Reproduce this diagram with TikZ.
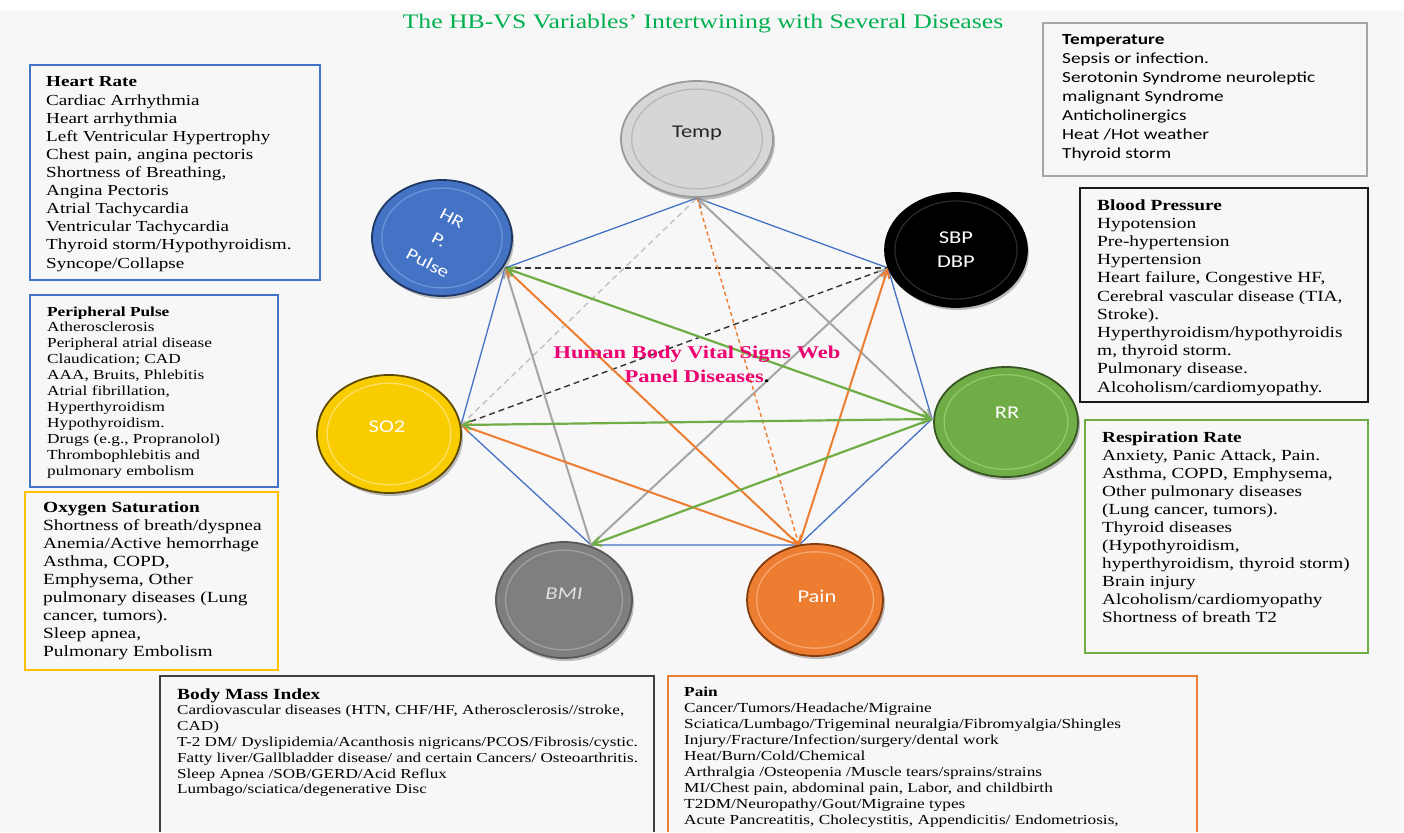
\documentclass[tikz,border=0pt]{standalone}
\usepackage{fontspec}
\setmainfont{Liberation Serif}[FakeStretch=1.25]
\newfontfamily\calib{Carlito}[FakeStretch=1.25]
\usetikzlibrary{shapes.geometric,arrows.meta}
\definecolor{bgc}{HTML}{F7F7F7}
\definecolor{bluec}{HTML}{4472C4}
\definecolor{greenc}{HTML}{70AD47}
\definecolor{orangec}{HTML}{ED7D31}
\definecolor{grayc}{HTML}{A5A5A5}
\definecolor{goldc}{HTML}{FFC000}
\definecolor{titlec}{HTML}{00B050}
\definecolor{pinkc}{HTML}{EE0070}
\definecolor{tempf}{HTML}{D6D6D6}
\definecolor{tempr}{HTML}{B8B8B8}
\definecolor{tempe}{HTML}{9A9A9A}
\definecolor{hrr}{HTML}{6A93DA}
\definecolor{hre}{HTML}{1F3864}
\definecolor{sbpr}{HTML}{2A2A2A}
\definecolor{rrr}{HTML}{8FCB66}
\definecolor{rre}{HTML}{375623}
\definecolor{so2f}{HTML}{F9CC00}
\definecolor{so2r}{HTML}{FFE066}
\definecolor{so2e}{HTML}{5E4A00}
\definecolor{bmif}{HTML}{7F7F7F}
\definecolor{bmir}{HTML}{A0A0A0}
\definecolor{bmie}{HTML}{595959}
\definecolor{painr}{HTML}{F7A670}
\definecolor{paine}{HTML}{843C0C}
\newcommand\tl[1]{\begin{tabular}[t]{@{}l@{}}#1\end{tabular}}
\newcommand\disk[8]{%
 \fill[black!50, opacity=0.5] (#2+2,#3+3) ellipse [x radius=#4pt, y radius=#5pt];
 \node[ellipse, draw=#8, line width=1.8pt, fill=#6, minimum width=2*#4pt, minimum height=2*#5pt, inner sep=0pt] (#1) at (#2,#3) {};
 \draw[draw=#7, line width=1.3pt] (#2,#3) ellipse [x radius=0.86*#4pt, y radius=0.86*#5pt];
}
\begin{document}
\begin{tikzpicture}[x=1pt,y=-1pt, >={Straight Barb[length=8pt,width=9pt]},
 txt/.style={anchor=base west, inner sep=0pt},
 poly/.style={draw=bluec, line width=1.3pt},
 gline/.style={draw=grayc, line width=2pt},
 oline/.style={draw=orangec, line width=2pt},
 grline/.style={draw=greenc, line width=2.2pt},
 bdash/.style={draw=black!80, line width=1.4pt, dash pattern=on 6pt off 4pt},
 ldash/.style={draw=black!25, line width=1.3pt, dash pattern=on 6pt off 4pt},
 odash/.style={draw=orangec, line width=1.4pt, dash pattern=on 4pt off 3pt},
 lbl/.style={font=\calib\fontsize{18}{24}\selectfont, inner sep=0pt, align=center},
 hrlbl/.style={font=\calib\fontsize{17}{20}\selectfont, inner sep=0pt, text=white, rotate=-28},
]
\useasboundingbox (0,0) rectangle (1404,832);
\fill[white] (0,0) rectangle (1404,832);
\fill[bgc] (0,10) rectangle (1404,832);

% title
\node[anchor=base, inner sep=0pt, text=titlec, font=\fontsize{20.6}{24}\selectfont] (title) at (703,29) {The HB-VS Variables' Intertwining with Several Diseases};

% boxes
\draw[draw=bluec, line width=1.5pt] (30,65) rectangle (320,280);
\draw[draw=bluec, line width=1.5pt] (30,295) rectangle (278,487);
\draw[draw=goldc, line width=1.8pt] (25,492) rectangle (278,670);
\draw[draw=black!35, line width=2pt] (1043,23) rectangle (1367,176);
\draw[draw=black!90, line width=1.8pt] (1080,188) rectangle (1368,402);
\draw[draw=greenc, line width=2pt] (1085,420) rectangle (1368,653);
\draw[draw=black!75, line width=1.5pt] (160,832) -- (160,676) -- (654,676) -- (654,832);
\draw[draw=orangec, line width=1.5pt] (668,832) -- (668,676) -- (1197,676) -- (1197,832);

\node[txt, font=\fontsize{15.3}{18.1}\selectfont] (hrtxt) at (46,87) {\tl{\textbf{Heart Rate}\\
Cardiac Arrhythmia\\
Heart arrhythmia\\
Left Ventricular Hypertrophy\\
Chest pain, angina pectoris\\
Shortness of Breathing,\\
Angina Pectoris\\
Atrial Tachycardia\\
Ventricular Tachycardia\\
Thyroid storm/Hypothyroidism.\\
Syncope/Collapse}};

\node[txt, font=\fontsize{13.8}{15.9}\selectfont] (pptxt) at (47,316) {\tl{\textbf{Peripheral Pulse}\\
Atherosclerosis\\
Peripheral atrial disease\\
Claudication; CAD\\
AAA, Bruits, Phlebitis\\
Atrial fibrillation,\\
Hyperthyroidism\\
Hypothyroidism.\\
Drugs (e.g., Propranolol)\\
Thrombophlebitis and\\
pulmonary embolism}};

\node[txt, font=\fontsize{15.5}{18.1}\selectfont] (o2txt) at (43,512) {\tl{\textbf{Oxygen Saturation}\\
Shortness of breath/dyspnea\\
Anemia/Active hemorrhage\\
Asthma, COPD,\\
Emphysema, Other\\
pulmonary diseases (Lung\\
cancer, tumors).\\
Sleep apnea,\\
Pulmonary Embolism}};

\node[txt, font=\calib\fontsize{15.4}{19}\selectfont] (temptxt) at (1062,45) {\tl{\textbf{Temperature}\\
Sepsis or infection.\\
Serotonin Syndrome neuroleptic\\
malignant Syndrome\\
Anticholinergics\\
Heat /Hot weather\\
Thyroid storm}};

\node[txt, font=\fontsize{15.5}{18.2}\selectfont] (bptxt) at (1097,210) {\tl{\textbf{Blood Pressure}\\
Hypotension\\
Pre-hypertension\\
Hypertension\\
Heart failure, Congestive HF,\\
Cerebral vascular disease (TIA,\\
Stroke).\\
Hyperthyroidism/hypothyroidis\\
m, thyroid storm.\\
Pulmonary disease.\\
Alcoholism/cardiomyopathy.}};

\node[txt, font=\fontsize{15.4}{18}\selectfont] (rrtxt) at (1102,442) {\tl{\textbf{Respiration Rate}\\
Anxiety, Panic Attack, Pain.\\
Asthma, COPD, Emphysema,\\
Other pulmonary diseases\\
(Lung cancer, tumors).\\
Thyroid diseases\\
(Hypothyroidism,\\
hyperthyroidism, thyroid storm)\\
Brain injury\\
Alcoholism/cardiomyopathy\\
Shortness of breath T2}};

\node[txt, font=\fontsize{13.7}{15.8}\selectfont] (bmitxt) at (177,699) {\tl{{\fontsize{15.5}{15.8}\selectfont\textbf{Body Mass Index}}\\
Cardiovascular diseases (HTN, CHF/HF, Atherosclerosis//stroke,\\
CAD)\\
T-2 DM/ Dyslipidemia/Acanthosis nigricans/PCOS/Fibrosis/cystic.\\
Fatty liver/Gallbladder disease/ and certain Cancers/ Osteoarthritis.\\
Sleep Apnea /SOB/GERD/Acid Reflux\\
Lumbago/sciatica/degenerative Disc}};

\node[txt, font=\fontsize{13.8}{16.1}\selectfont] (paintxt) at (684,696) {\tl{\textbf{Pain}\\
Cancer/Tumors/Headache/Migraine\\
Sciatica/Lumbago/Trigeminal neuralgia/Fibromyalgia/Shingles\\
Injury/Fracture/Infection/surgery/dental work\\
Heat/Burn/Cold/Chemical\\
Arthralgia /Osteopenia /Muscle tears/sprains/strains\\
MI/Chest pain, abdominal pain, Labor, and childbirth\\
T2DM/Neuropathy/Gout/Migraine types\\
Acute Pancreatitis, Cholecystitis, Appendicitis/ Endometriosis,}};

% vertices
\coordinate (vT) at (697,198);
\coordinate (vHR) at (505,268);
\coordinate (vSBP) at (888,268);
\coordinate (vRR) at (932,419);
\coordinate (vSO2) at (461,425);
\coordinate (vBMI) at (591,545);
\coordinate (vPain) at (799,545);

% connectors
\draw[poly] (vHR) -- (vT) -- (vSBP) -- (vRR) -- (vPain) -- (vBMI) -- (vSO2) -- cycle;
\draw[bdash] (vHR) -- (vSBP);
\draw[bdash] (vSO2) -- (vSBP);
\draw[ldash] (vSO2) -- (vT);
\draw[gline, ->] (vBMI) -- (vHR);
\draw[gline, ->] (vBMI) -- (vSBP);
\draw[gline, <->] (vT) -- (vRR);
\draw[oline, ->] (vPain) -- (vHR);
\draw[oline, ->] (vPain) -- (vSO2);
\draw[oline, ->] (vPain) -- (vSBP);
\draw[odash, ->] (vT) -- (vPain);
\draw[grline, <->] (vHR) -- (vRR);
\draw[grline, <->] (vSO2) -- (vRR);
\draw[grline, ->] (vRR) -- (vBMI);

% disks
\disk{temp}{697}{139}{76}{58}{tempf}{tempr}{tempe}
\disk{hr}{442}{238}{70}{58}{bluec}{hrr}{hre}
\disk{sbp}{956}{250}{71}{57}{black}{sbpr}{black}
\disk{rr}{1006}{422}{72}{55}{greenc}{rrr}{rre}
\disk{so2}{389}{434}{72}{59}{so2f}{so2r}{so2e}
\disk{bmi}{564}{600}{68}{58}{bmif}{bmir}{bmie}
\disk{pain}{815}{600}{68}{56}{orangec}{painr}{paine}

\node[lbl, text=black!85] (tempL) at (697,133) {Temp};
\node[lbl, text=white] (sbpL) at (956,250) {SBP\\DBP};
\node[lbl, text=white] (rrL) at (1007,413) {RR};
\node[lbl, text=white] (so2L) at (387,427) {SO2};
\node[lbl, text=black!12, font=\calib\itshape\fontsize{18}{24}\selectfont] (bmiL) at (564,594) {BMI};
\node[lbl, text=white] (painL) at (817,596) {Pain};
\node[hrlbl] (hrL1) at (452,218) {HR};
\node[hrlbl] (hrL2) at (439,240) {P.};
\node[hrlbl] (hrL3) at (428,263) {Pulse};

% centre text
\node[anchor=base, inner sep=0pt, text=pinkc, font=\bfseries\fontsize{18}{24}\selectfont] (web) at (697,358) {\begin{tabular}[t]{@{}c@{}}Human Body Vital Signs Web\\ Panel Diseases\textcolor{black}{.}\end{tabular}};
\end{tikzpicture}
\end{document}
